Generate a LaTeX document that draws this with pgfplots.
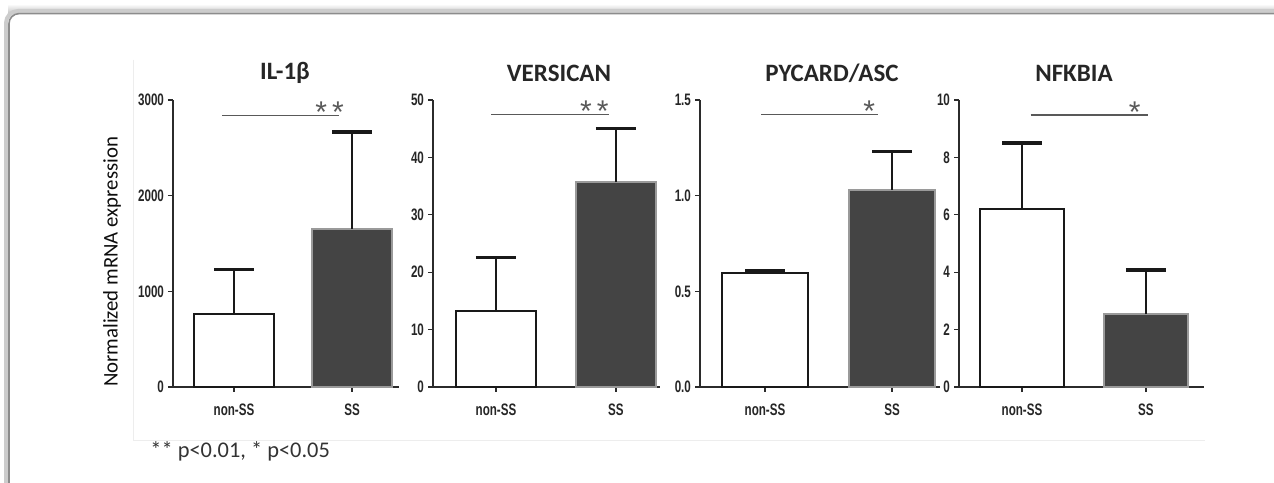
\documentclass[border=0pt]{standalone}
\usepackage{fontspec}
\usepackage{pgfplots}
\pgfplotsset{compat=1.18}
\setmainfont{Carlito}
\newfontfamily\narrowb[FakeStretch=0.70]{Liberation Sans}
\newfontfamily\starfont{Liberation Sans}
\definecolor{darkbar}{HTML}{444444}
\definecolor{darkborder}{HTML}{9A9A9A}
\definecolor{axiscol}{HTML}{2B2B2B}
\pgfplotsset{
 panel/.style={
  scale only axis, height=143.5pt, ymin=0,
  axis x line=bottom, axis y line=left,
  axis line style={-, line width=1pt, color=axiscol},
  xtick={0,1}, xticklabels={non-SS,SS},
  tick align=outside, major tick length=2.5pt,
  tick style={line width=0.6pt, color=axiscol},
  every tick label/.append style={font=\narrowb\bfseries\fontsize{8.3}{9}\selectfont, text=black!85},
  xticklabel style={yshift=-2.5pt},
  yticklabel style={xshift=1.5pt},
  clip=false,
  /pgf/number format/assume math mode=true,
  anchor=south west,
 },
 whitebar/.style={ybar, bar width=0.67, fill=white, draw=black!90, line width=1pt,
   error bars/.cd, y dir=plus, y explicit,
   error bar style={line width=1pt, black!90},
   error mark options={rotate=90, mark size=10pt, line width=1.6pt, black!90}},
 darkbarst/.style={ybar, bar width=0.67, fill=darkbar, draw=darkborder, line width=1pt,
   error bars/.cd, y dir=plus, y explicit,
   error bar style={line width=1pt, black!90},
   error mark options={rotate=90, mark size=10pt, line width=1.6pt, black!90}},
 sigline/.style={sharp plot, no marks, black!65, line width=0.7pt},
}
\begin{document}
\begin{tikzpicture}
\useasboundingbox (0,0) rectangle (637pt,241pt);
\clip (0,0) rectangle (637pt,241pt);
% outer frame with soft shadow
\shade[top color=white, bottom color=black!22] (4pt,234.5pt) rectangle (640pt,239pt);
\fill[white] (5pt,-5pt) rectangle (640pt,234pt);
\draw[black!20, line width=2pt, rounded corners=6pt] (3pt,-10pt) -- (3pt,235.5pt) -- (645pt,235.5pt);
\draw[black!45, line width=0.8pt, rounded corners=5pt] (4.5pt,-10pt) -- (4.5pt,234.2pt) -- (645pt,234.2pt);
% faint inner image border
\draw[black!7, line width=0.5pt] (66.5pt,211pt) -- (66.5pt,21pt) -- (602.5pt,21pt);

% Panel 1
\begin{axis}[panel, at={(86.5pt,47.5pt)}, width=113pt, xmin=-0.517, xmax=1.398, ymax=3000,
  ytick={0,1000,2000,3000}, yticklabels={0,1000,2000,3000}]
\addplot[whitebar] coordinates {(0,760) +- (0,470)};
\addplot[darkbarst] coordinates {(1,1650) +- (0,1015)};
\addplot[sigline] coordinates {(-0.10,2840) (0.89,2840)};
\node[font=\starfont\fontsize{15}{15}\selectfont, text=black!65] at (axis cs:0.81,2870) {*\,*};
\end{axis}

% Panel 2
\begin{axis}[panel, at={(216.5pt,47.5pt)}, width=113.5pt, xmin=-0.525, xmax=1.367, ymax=50,
  ytick={0,10,20,30,40,50}, yticklabels={0,10,20,30,40,50}]
\addplot[whitebar] coordinates {(0,13.3) +- (0,9.2)};
\addplot[darkbarst] coordinates {(1,35.7) +- (0,9.4)};
\addplot[sigline] coordinates {(-0.04,47.5) (0.94,47.5)};
\node[font=\starfont\fontsize{15}{15}\selectfont, text=black!65] at (axis cs:0.82,48.0) {*\,*};
\end{axis}

% Panel 3
\begin{axis}[panel, at={(350pt,47.5pt)}, width=120pt, xmin=-0.512, xmax=1.378, ymax=1.5,
  ytick={0,0.5,1,1.5}, yticklabels={0.0,0.5,1.0,1.5}]
\addplot[whitebar] coordinates {(0,0.597) +- (0,0.01)};
\addplot[darkbarst] coordinates {(1,1.03) +- (0,0.20)};
\addplot[sigline] coordinates {(-0.03,1.424) (0.89,1.424)};
\node[font=\starfont\fontsize{15}{15}\selectfont, text=black!65] at (axis cs:0.82,1.44) {*};
\end{axis}

% Panel 4
\begin{axis}[panel, at={(479.5pt,47.5pt)}, width=122.5pt, xmin=-0.508, xmax=1.468, ymax=10,
  ytick={0,2,4,6,8,10}, yticklabels={0,2,4,6,8,10}]
\addplot[whitebar] coordinates {(0,6.2) +- (0,2.3)};
\addplot[darkbarst] coordinates {(1,2.54) +- (0,1.54)};
\addplot[sigline] coordinates {(0.07,9.48) (1.02,9.48)};
\node[font=\starfont\fontsize{15}{15}\selectfont, text=black!65] at (axis cs:0.91,9.58) {*};
\end{axis}

% titles
\begin{scope}[every node/.style={font=\bfseries\fontsize{12.5}{13}\selectfont, text=black!85}]
\node at (142.5pt,204.5pt) {IL-1β};
\node at (279.5pt,204.5pt) {VERSICAN};
\node at (416pt,204.5pt) {PYCARD/ASC};
\node at (537pt,204.5pt) {NFKBIA};
\end{scope}
% y label
\node[rotate=90, font=\fontsize{10.4}{11}\selectfont, text=black!95] at (56pt,110pt) {Normalized mRNA expression};
% footnote
\node[anchor=west, inner sep=0pt, font=\fontsize{11.2}{12}\selectfont, text=black!80] at (75pt,15.5pt) {** p<0.01, * p<0.05};
\end{tikzpicture}
\end{document}
